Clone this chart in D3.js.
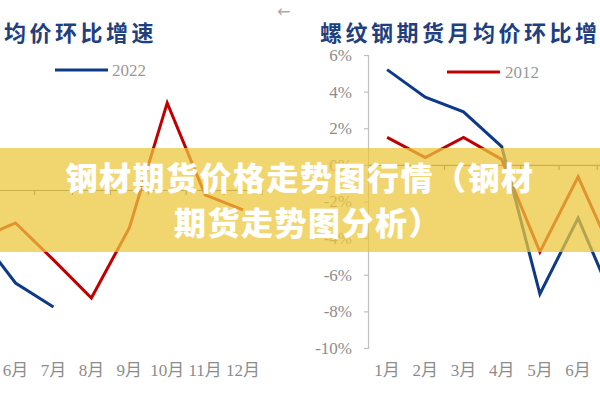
<!DOCTYPE html>
<html><head><meta charset="utf-8">
<script src="https://cdn.jsdelivr.net/npm/d3@7/dist/d3.min.js"></script>
<style>
html,body{margin:0;padding:0;background:#fff;overflow:hidden;}
svg{display:block;}
</style></head>
<body>
<svg id="c" width="600" height="400"></svg>
<script>
// ---- data ----
const months = ["1月","2月","3月","4月","5月","6月","7月","8月","9月","10月","11月","12月"];
const rightTicks = [6,4,2,0,-2,-4,-6,-8,-10];
// right chart (螺纹钢期货月均价环比增速), % values
const rightRed2012 = [1.5, 0.4, 1.5, 0.3, -4.75, -0.65, -5.3, null, null, null, null, null];
const rightBlue = [5.2, 3.7, 2.9, 1.0, -7.05, -2.9, -7.8, null, null, null, null, null];
// left chart (…均价环比增速), % values (only visible months)
const leftRed = [null, null, null, null, -2.5, -1.67, -3.54, -5.47, -1.92, 4.41, -0.25, -1.01];
const leftBlue2022 = [null, null, null, null, -2.2, -4.71, -5.92, null, null, null, null, null];
const bannerLines = ["钢材期货价格走势图行情（钢材", "期货走势图分析）"];

const svg = d3.select("#c");
const RED = "#c00000", BLUE = "#0d3a87", GREY = "#8c8c8c";
const serif = "'Liberation Serif','DejaVu Serif','Noto Sans CJK SC',serif";
const cjk = "'Noto Sans CJK SC','Noto Sans',sans-serif";
const W = 600;

function drawChart(g, cfg){
  const x = d3.scaleBand().domain(months).range(cfg.xr).paddingInner(0).paddingOuter(0);
  const y = d3.scaleLinear().domain(cfg.yd).range(cfg.yr);
  const cx = d => x(d) + x.bandwidth()/2;
  // y axis
  if(cfg.showY){
    const ya = g.append("g").attr("transform",`translate(${cfg.xr[0]},0)`)
      .call(d3.axisLeft(y).tickValues(rightTicks).tickSize(4).tickPadding(12).tickFormat(d=>d+"%"));
    ya.select(".domain").attr("stroke","#bfbfbf").attr("stroke-width",1.2);
    ya.selectAll(".tick line").attr("stroke","#bfbfbf").attr("stroke-width",1.2);
    ya.selectAll("text").attr("font-family",serif).attr("font-size",17).attr("fill",GREY);
  }
  // x axis at zero line
  const xa = g.append("g").attr("transform",`translate(0,${y(0)})`)
    .call(d3.axisBottom(x).tickSize(0).tickFormat(""));
  xa.select(".domain").attr("stroke","#6b6b6b").attr("stroke-width",1.2);
  // ticks between categories
  g.append("g").selectAll("line").data(d3.range(1,13)).join("line")
    .attr("x1",i=>x.range()[0]+i*x.bandwidth()).attr("x2",i=>x.range()[0]+i*x.bandwidth())
    .attr("y1",y(0)).attr("y2",y(0)+5).attr("stroke","#6b6b6b").attr("stroke-width",1.2);
  // month labels at bottom (only those inside the picture)
  g.append("g").selectAll("text").data(months.filter(d=>cx(d)-13>=0 && cx(d)+13<=W)).join("text")
    .attr("x",d=>cx(d)).attr("y",cfg.labelY)
    .attr("text-anchor","middle").attr("font-family",serif).attr("font-size",17)
    .attr("fill",GREY).text(d=>d);
  // lines
  cfg.series.forEach(s=>{
    const line = d3.line().defined(d=>d!=null)
      .x((d,i)=>cx(months[i])).y(d=>y(d));
    g.append("path").datum(s.values).attr("d",line).attr("fill","none")
      .attr("stroke",s.color).attr("stroke-width",3).attr("stroke-linejoin","miter");
  });
}

const left = svg.append("g");
drawChart(left,{xr:[-193,262], yd:[6,-8], yr:[71.5,348], showY:false, labelY:376,
  series:[{values:leftRed,color:RED},{values:leftBlue2022,color:BLUE}]});
const right = svg.append("g");
drawChart(right,{xr:[368,826.4], yd:[6,-10], yr:[55,348], showY:true, labelY:376,
  series:[{values:rightRed2012,color:RED},{values:rightBlue,color:BLUE}]});

// titles
svg.append("text").attr("x",157).attr("y",41).attr("text-anchor","end")
  .attr("font-family",cjk).attr("font-weight",700).attr("font-size",22)
  .attr("letter-spacing",3.5).attr("fill","#1f3f7f").text("均价环比增速");
svg.append("text").attr("x",320).attr("y",41)
  .attr("font-family",cjk).attr("font-weight",700).attr("font-size",22)
  .attr("letter-spacing",3.5).attr("fill","#1f3f7f").text("螺纹钢期货月均价环比增");

// legends
svg.append("line").attr("x1",55).attr("x2",108).attr("y1",70).attr("y2",70).attr("stroke",BLUE).attr("stroke-width",3);
svg.append("text").attr("x",112).attr("y",76).attr("font-family",serif).attr("font-size",17).attr("fill","#999").text("2022");
svg.append("line").attr("x1",447).attr("x2",500).attr("y1",72).attr("y2",72).attr("stroke",RED).attr("stroke-width",3);
svg.append("text").attr("x",505).attr("y",78).attr("font-family",serif).attr("font-size",17).attr("fill","#999").text("2012");

// arrow
svg.append("text").attr("x",277).attr("y",17).attr("font-family","'DejaVu Sans',sans-serif").attr("font-size",16).attr("fill","#aaa").text("←");

// banner overlay
svg.append("rect").attr("x",0).attr("y",148).attr("width",600).attr("height",104)
  .attr("fill","rgb(236,200,62)").attr("fill-opacity",0.74);
svg.append("g").selectAll("text").data(bannerLines).join("text")
  .attr("x",(d,i)=>i===0?300:308).attr("y",(d,i)=>190+i*45)
  .attr("text-anchor","middle").attr("font-family",cjk).attr("font-weight",900)
  .attr("font-size",32).attr("letter-spacing",1.5).attr("fill","#fff").text(d=>d);
</script>
</body></html>
